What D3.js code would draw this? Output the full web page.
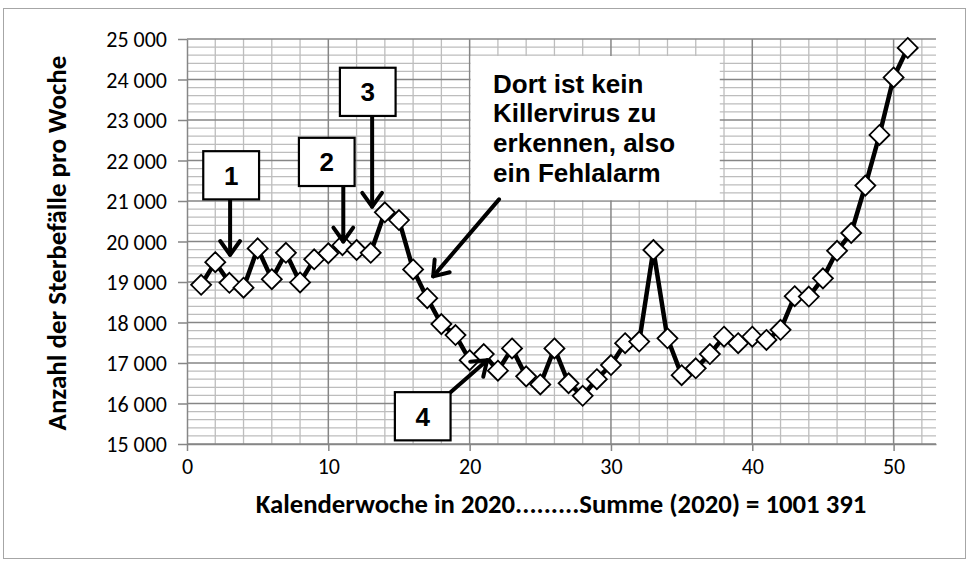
<!DOCTYPE html>
<html>
<head>
<meta charset="utf-8">
<script src="https://cdn.jsdelivr.net/npm/d3@7"></script>
<style>
  body { margin: 0; background: #fff; }
  .tick text { font-family: Calibri, Carlito, Lato, sans-serif; font-size: 22px; fill: #000; }
</style>
</head>
<body>
<svg id="chart" width="969" height="562"></svg>
<script>
// weekly deaths 2020
const weeks = d3.range(1, 52);
const deaths = [18930, 19490, 18980, 18860, 19830, 19070, 19720, 18990, 19560, 19710,
                19910, 19790, 19720, 20720, 20530, 19310, 18600, 17960, 17690, 17070,
                17220, 16810, 17360, 16670, 16470, 17360, 16500, 16190, 16600, 16950,
                17490, 17530, 19790, 17610, 16700, 16870, 17220, 17650, 17490, 17650,
                17570, 17820, 18650, 18640, 19090, 19770, 20210, 21380, 22630, 24050, 24780];
const yTicks = d3.range(15000, 25001, 1000);
const xTicks = [0, 10, 20, 30, 40, 50];
const xTitle = "Kalenderwoche in 2020.........Summe (2020) = 1001 391";
const yTitle = "Anzahl der Sterbefälle pro Woche";
const noteLines = ["Dort ist kein", "Killervirus zu", "erkennen, also", "ein Fehlalarm"];

// numbered callouts, in data units (week, deaths)
const callouts = [
  { label: "1", x0: 1.15, x1: 5.1, top: 22230, bottom: 21040, from: [3.05, 21040], to: [3.05, 19670] },
  { label: "2", x0: 7.92, x1: 11.86, top: 22560, bottom: 21370, from: [11.06, 21370], to: [11.06, 20000] },
  { label: "3", x0: 10.82, x1: 14.76, top: 24290, bottom: 23100, from: [13.1, 23100], to: [13.1, 20860] },
  { label: "4", x0: 14.71, x1: 18.65, top: 16280, bottom: 15090, from: [18.65, 16280], to: [21.24, 17070] }
];
const note = { x0: 20.07, x1: 37.7, top: 24580, bottom: 21020, textX: 21.66,
               baselines: [23660, 22940, 22220, 21480], from: [22.08, 21040], to: [17.42, 19140] };

const svg = d3.select("#chart");
const W = 969, H = 562;

// chart area border
svg.append("rect")
  .attr("x", 3.5).attr("y", 8.5).attr("width", W - 7).attr("height", H - 12)
  .attr("fill", "#fff").attr("stroke", "#a6a6a6").attr("stroke-width", 1);

const x = d3.scaleLinear().domain([0, 53]).range([187, 936]);
const y = d3.scaleLinear().domain([15000, 25000]).range([444, 39]);

// grid: minor every 2 weeks / 200, major every 10 weeks / 1000
const grid = svg.append("g");
grid.selectAll(".vmin").data(d3.range(2, 53, 2).filter(d => d % 10 !== 0)).enter().append("line")
  .attr("x1", d => x(d)).attr("x2", d => x(d)).attr("y1", y(25000)).attr("y2", y(15000))
  .attr("stroke", "#bdbdbd").attr("stroke-width", 1.3);
grid.selectAll(".hmin").data(d3.range(15200, 25000, 200).filter(d => d % 1000 !== 0)).enter().append("line")
  .attr("x1", x(0)).attr("x2", x(53)).attr("y1", d => y(d)).attr("y2", d => y(d))
  .attr("stroke", "#bdbdbd").attr("stroke-width", 1.3);
grid.selectAll(".vmaj").data(xTicks.filter(d => d > 0)).enter().append("line")
  .attr("x1", d => x(d)).attr("x2", d => x(d)).attr("y1", y(25000)).attr("y2", y(15000))
  .attr("stroke", "#868686").attr("stroke-width", 1.5);
grid.selectAll(".hmaj").data(yTicks).enter().append("line")
  .attr("x1", x(0)).attr("x2", x(53)).attr("y1", d => y(d)).attr("y2", d => y(d))
  .attr("stroke", "#868686").attr("stroke-width", 1.5);

// axes
const yAxis = svg.append("g").attr("transform", `translate(${x(0)},0)`)
  .call(d3.axisLeft(y).tickValues(yTicks).tickSize(9).tickSizeOuter(0).tickPadding(11)
    .tickFormat(d => d3.format(",")(d).replace(",", " ")));
const xAxis = svg.append("g").attr("transform", `translate(0,${y(15000)})`)
  .call(d3.axisBottom(x).tickValues(xTicks).tickSize(7).tickSizeOuter(0).tickPadding(7));
[yAxis, xAxis].forEach(a => {
  a.select(".domain").attr("stroke", "#868686").attr("stroke-width", 1.5);
  a.selectAll(".tick line").attr("stroke", "#868686").attr("stroke-width", 1.5);
});
yAxis.selectAll(".tick text").attr("dy", "0.36em");

// fit a text to a target width
function fit(sel, target) {
  const len = sel.node().getComputedTextLength();
  const fs = parseFloat(sel.attr("font-size"));
  sel.attr("font-size", fs * target / len);
}

const xt = svg.append("text").text(xTitle)
  .attr("x", 561).attr("y", 513).attr("text-anchor", "middle")
  .attr("font-family", "Calibri, Carlito, Lato, sans-serif").attr("font-weight", "bold").attr("font-size", 20);
fit(xt, 611);
const yt = svg.append("text").text(yTitle)
  .attr("transform", "translate(66,243) rotate(-90)").attr("text-anchor", "middle")
  .attr("font-family", "Calibri, Carlito, Lato, sans-serif").attr("font-weight", "bold").attr("font-size", 20);
fit(yt, 375);

// note box (white, no border)
svg.append("rect")
  .attr("x", x(note.x0)).attr("y", y(note.top))
  .attr("width", x(note.x1) - x(note.x0)).attr("height", y(note.bottom) - y(note.top))
  .attr("fill", "#fff");
svg.selectAll(".note").data(noteLines).enter().append("text")
  .attr("x", x(note.textX)).attr("y", (d, i) => y(note.baselines[i]))
  .attr("font-family", "Arial, 'Liberation Sans', sans-serif").attr("font-weight", "bold")
  .attr("font-size", 26).text(d => d);

// series line and diamond markers
const pts = weeks.map((w, i) => [w, deaths[i]]);
svg.append("path").datum(pts)
  .attr("d", d3.line().x(d => x(d[0])).y(d => y(d[1])))
  .attr("fill", "none").attr("stroke", "#000").attr("stroke-width", 4.5).attr("stroke-linejoin", "round");
svg.selectAll(".mk").data(pts).enter().append("path")
  .attr("transform", d => `translate(${x(d[0])},${y(d[1])})`)
  .attr("d", "M0,-10L10,0L0,10L-10,0Z")
  .attr("fill", "#fff").attr("stroke", "#000").attr("stroke-width", 1.8);

// arrows
function arrow(from, to) {
  const x1 = x(from[0]), y1 = y(from[1]), x2 = x(to[0]), y2 = y(to[1]);
  const a = Math.atan2(y2 - y1, x2 - x1), L = 17, s = 0.62;
  const g = svg.append("g").attr("stroke", "#000").attr("stroke-width", 4).attr("fill", "none")
    .attr("stroke-linecap", "round").attr("stroke-linejoin", "round");
  g.append("line").attr("x1", x1).attr("y1", y1).attr("x2", x2).attr("y2", y2);
  g.append("path").attr("d",
    `M${x2 - L * Math.cos(a - s)},${y2 - L * Math.sin(a - s)}L${x2},${y2}L${x2 - L * Math.cos(a + s)},${y2 - L * Math.sin(a + s)}`);
}

callouts.forEach(c => {
  arrow(c.from, c.to);
  svg.append("rect")
    .attr("x", x(c.x0)).attr("y", y(c.top))
    .attr("width", x(c.x1) - x(c.x0)).attr("height", y(c.bottom) - y(c.top))
    .attr("fill", "#fff").attr("stroke", "#000").attr("stroke-width", 2.2);
  svg.append("text").text(c.label)
    .attr("x", (x(c.x0) + x(c.x1)) / 2).attr("y", (y(c.top) + y(c.bottom)) / 2).attr("dy", "0.36em")
    .attr("text-anchor", "middle")
    .attr("font-family", "Arial, 'Liberation Sans', sans-serif").attr("font-weight", "bold").attr("font-size", 26);
});
arrow(note.from, note.to);
</script>
</body>
</html>
